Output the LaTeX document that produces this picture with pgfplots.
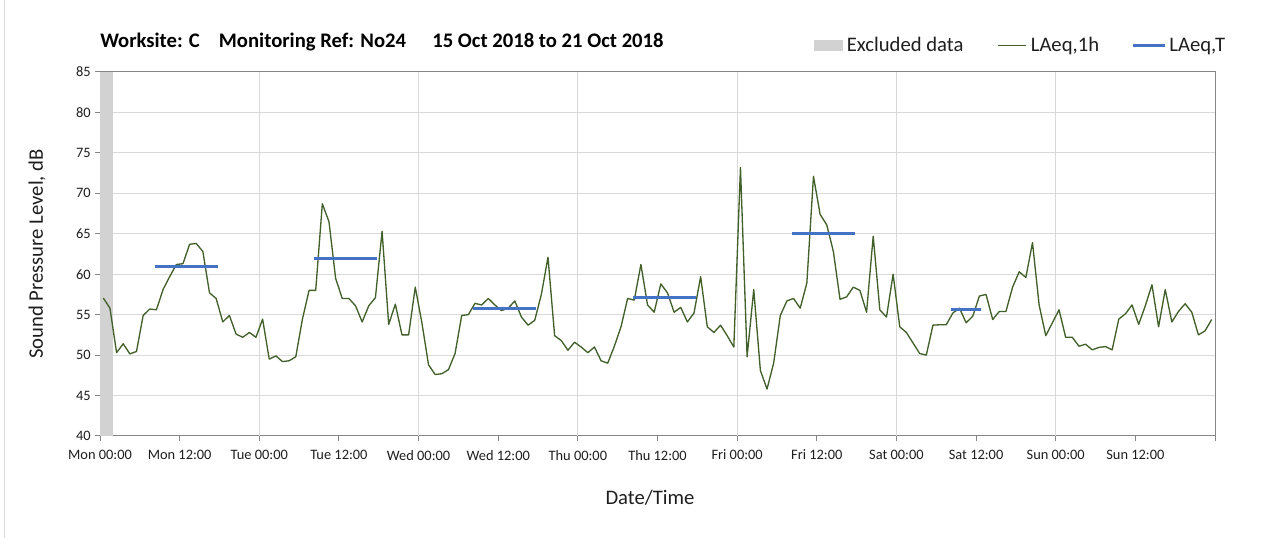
\documentclass[border=0pt]{standalone}
\usepackage{fontspec}
\setmainfont{Carlito}
\usepackage{pgfplots}
\pgfplotsset{compat=1.18}
\usepackage{pgfplotstable}

\definecolor{hourgreen}{RGB}{66,96,42}
\definecolor{periodblue}{RGB}{68,114,196}
\definecolor{exclgray}{RGB}{210,210,210}
\definecolor{gridgray}{RGB}{217,217,217}
\definecolor{axisgray}{RGB}{134,134,134}
\definecolor{txt}{RGB}{30,30,30}

% hourly LAeq,1h, plotted at mid-hour (hours from Mon 00:00)
\pgfplotstableread{
h spl
0.5 57.05
1.5 55.8
2.5 50.3
3.5 51.4
4.5 50.15
5.5 50.45
6.5 54.9
7.5 55.7
8.5 55.6
9.5 58.1
10.5 59.7
11.5 61.2
12.5 61.3
13.5 63.7
14.5 63.8
15.5 62.8
16.5 57.7
17.5 57.0
18.5 54.1
19.5 54.9
20.5 52.6
21.5 52.2
22.5 52.8
23.5 52.2
24.5 54.45
25.5 49.5
26.5 49.9
27.5 49.2
28.5 49.3
29.5 49.8
30.5 54.45
31.5 58.0
32.5 58.0
33.5 68.7
34.5 66.5
35.5 59.5
36.5 57.0
37.5 57.0
38.5 56.1
39.5 54.1
40.5 56.1
41.5 57.1
42.5 65.3
43.5 53.8
44.5 56.3
45.5 52.5
46.5 52.5
47.5 58.4
48.5 54.0
49.5 48.8
50.5 47.6
51.5 47.7
52.5 48.2
53.5 50.2
54.5 54.9
55.5 55.0
56.5 56.4
57.5 56.2
58.5 57.0
59.5 56.2
60.5 55.5
61.5 55.8
62.5 56.7
63.5 54.7
64.5 53.7
65.5 54.3
66.5 57.5
67.5 62.1
68.5 52.4
69.5 51.8
70.5 50.6
71.5 51.6
72.5 51.0
73.5 50.3
74.5 51.0
75.5 49.3
76.5 49.0
77.5 51.1
78.5 53.5
79.5 57.0
80.5 56.8
81.5 61.2
82.5 56.2
83.5 55.3
84.5 58.8
85.5 57.7
86.5 55.3
87.5 55.9
88.5 54.1
89.5 55.2
90.5 59.7
91.5 53.5
92.5 52.8
93.5 53.7
94.5 52.4
95.5 51.0
96.5 73.2
97.5 49.8
98.5 58.1
99.5 48.1
100.5 45.8
101.5 49.0
102.5 54.9
103.5 56.7
104.5 57.0
105.5 55.8
106.5 58.9
107.5 72.1
108.5 67.4
109.5 66.1
110.5 62.8
111.5 56.9
112.5 57.2
113.5 58.4
114.5 58.0
115.5 55.3
116.5 64.7
117.5 55.6
118.5 54.7
119.5 60.0
120.5 53.5
121.5 52.8
122.5 51.5
123.5 50.2
124.5 50.0
125.5 53.7
126.5 53.75
127.5 53.75
128.5 55.2
129.5 55.8
130.5 54.0
131.5 54.8
132.5 57.3
133.5 57.5
134.5 54.4
135.5 55.4
136.5 55.4
137.5 58.4
138.5 60.3
139.5 59.6
140.5 63.9
141.5 56.2
142.5 52.4
143.5 54.0
144.5 55.6
145.5 52.2
146.5 52.2
147.5 51.1
148.5 51.35
149.5 50.65
150.5 50.95
151.5 51.05
152.5 50.65
153.5 54.45
154.5 55.1
155.5 56.2
156.5 53.8
157.5 56.1
158.5 58.7
159.5 53.5
160.5 58.1
161.5 54.1
162.5 55.4
163.5 56.35
164.5 55.3
165.5 52.5
166.5 53.0
167.5 54.4
}\laeqhour

\begin{document}
\begin{tikzpicture}
\path[use as bounding box] (0pt,0pt) rectangle (955.5pt,403.5pt);
\draw[gridgray, line width=0.75pt] (3pt,0pt) -- (3pt,403.5pt);

\begin{axis}[
  at={(75pt,76.5pt)}, anchor=south west,
  scale only axis, width=836.25pt, height=273pt,
  xmin=0, xmax=168, ymin=40, ymax=85,
  axis line style={draw=axisgray, line width=0.75pt},
  tick style={draw=axisgray, line width=0.75pt},
  major tick length=3.5pt,
  tick align=outside, tick pos=left,
  ytick={40,45,...,85},
  xtick={0,12,...,168},
  xticklabels={Mon 00:00, Mon 12:00, Tue 00:00, Tue 12:00, Wed 00:00, Wed 12:00, Thu 00:00, Thu 12:00, Fri 00:00, Fri 12:00, Sat 00:00, Sat 12:00, Sun 00:00, Sun 12:00, {}},
  extra x ticks={24,48,...,144},
  extra x tick labels={},
  extra x tick style={grid=major, major tick length=0pt},
  ymajorgrids,
  grid style={draw=gridgray, line width=0.75pt},
  tick label style={font=\fontsize{10.8}{13}\selectfont, text=txt},
  x tick label style={yshift=-3.5pt},
  /pgf/number format/assume math mode=true,
  legend columns=3,
  legend style={draw=none, fill=none, inner sep=0pt,
    at={(axis description cs:1.0099,1.0723)}, anchor=east,
    font=\fontsize{15.5}{18}\selectfont, text=txt,
    nodes={inner sep=0.5pt},
    /tikz/every odd column/.append style={column sep=2.5pt},
    /tikz/every even column/.append style={column sep=25pt}},
]
\addplot[fill=exclgray, draw=none,
  legend image code/.code={\fill[exclgray] (0pt,-4.1pt) rectangle (21.75pt,4.1pt);}]
  coordinates {(0,40) (0,85) (2,85) (2,40)};
\addlegendentry{Excluded data}

\addplot[hourgreen, line width=1pt, line join=round,
  legend image code/.code={\draw[hourgreen, line width=1pt] (0pt,0pt) -- (21pt,0pt);}]
  table[x=h, y=spl] {\laeqhour};
\addlegendentry{LAeq,1h}

\addplot[periodblue, line width=2.25pt, line cap=rect,
  legend image code/.code={\draw[periodblue, line width=2.25pt] (0pt,0pt) -- (22pt,0pt);}]
  coordinates {(8.5,60.9) (17.5,60.9)};
\addlegendentry{LAeq,T}
\addplot[periodblue, line width=2.25pt, line cap=rect, forget plot] coordinates {(32.5,62.0) (41.5,62.0)};
\addplot[periodblue, line width=2.25pt, line cap=rect, forget plot] coordinates {(56.5,55.8) (65.5,55.8)};
\addplot[periodblue, line width=2.25pt, line cap=rect, forget plot] coordinates {(80.5,57.1) (89.5,57.1)};
\addplot[periodblue, line width=2.25pt, line cap=rect, forget plot] coordinates {(104.5,65.0) (113.5,65.0)};
\addplot[periodblue, line width=2.25pt, line cap=rect, forget plot] coordinates {(128.5,55.6) (132.5,55.6)};
\end{axis}

\begin{scope}[every node/.style={font=\fontsize{15.5}{18}\selectfont\bfseries, text=black, inner sep=0pt, anchor=base west}]
\node at (75pt,367.5pt) {Worksite: C};
\node at (164pt,367.5pt) {Monitoring Ref: No24};
\node at (324pt,367.5pt) {15 Oct 2018 to 21 Oct 2018};
\end{scope}
\node[font=\fontsize{15.5}{18}\selectfont, text=txt, inner sep=0pt] at (487.5pt,30pt) {Date/Time};
\node[font=\fontsize{15.5}{18}\selectfont, text=txt, inner sep=0pt, rotate=90] at (27.75pt,213pt) {Sound Pressure Level, dB};
\end{tikzpicture}
\end{document}
